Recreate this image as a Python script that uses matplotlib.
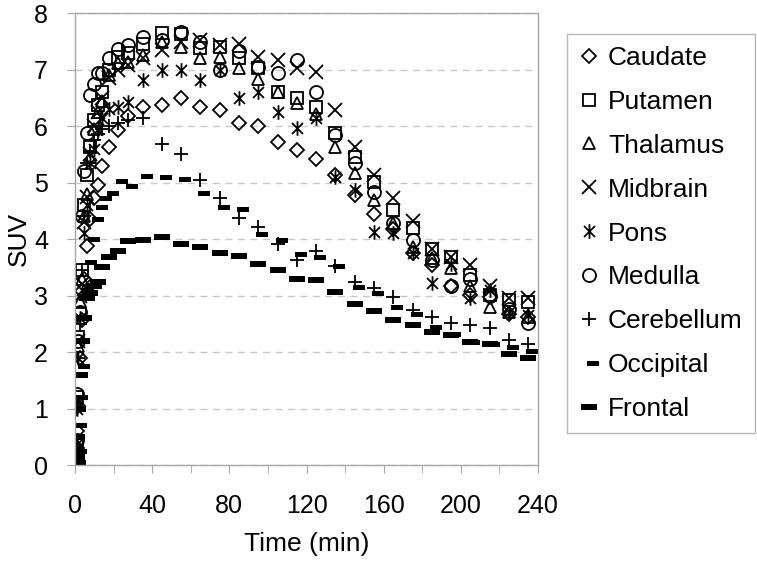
import matplotlib
matplotlib.use("Agg")
import matplotlib.pyplot as plt
from matplotlib.path import Path
from matplotlib.ticker import MultipleLocator

plt.rcParams['font.family'] = ['Liberation Sans', 'DejaVu Sans']

# Temps (min) et SUV par région
time_min = [0.17, 0.5, 0.83, 1.17, 1.5, 2.5, 3.5, 4.5, 6, 8, 10, 12, 14, 17.5, 22.5, 27.5,
            35, 45, 55, 65, 75, 85, 95, 105, 115, 125, 135, 145, 155, 165, 175, 185, 195,
            205, 215, 225, 235]

caudate = [0.0, 0.05, 0.3, 0.6, 1.05, 1.89, 2.57, 3.30, 3.88, 4.36, 4.72, 4.96, 5.30, 5.63, 5.93, 6.17,
           6.34, 6.37, 6.49, 6.34, 6.28, 6.06, 6.00, 5.72, 5.58, 5.42, 5.13, 4.78, 4.45, 4.17, 3.75,
           3.54, 3.16, 3.01, 2.98, 2.68, 2.62]
putamen = [0.0, 0.1, 0.4, 1.2, 2.27, 2.68, 3.45, 4.60, 5.13, 5.63, 6.10, 6.37, 6.60, 7.00, 7.23, 7.30,
           7.45, 7.65, 7.62, 7.38, 7.40, 7.20, 7.03, 6.61, 6.49, 6.34, 5.87, 5.46, 5.01, 4.51, 4.20,
           3.83, 3.69, 3.37, 3.01, 2.92, 2.89]
thalamus = [0.0, 0.1, 0.35, 1.1, 2.1, 2.9, 3.3, 4.40, 4.80, 5.45, 5.95, 6.25, 6.45, 6.90, 7.11, 7.14,
            7.26, 7.48, 7.40, 7.20, 7.22, 7.02, 6.83, 6.61, 6.40, 6.22, 5.63, 5.16, 4.69, 4.28, 3.86,
            3.66, 3.48, 3.16, 2.80, 2.71, 2.62]
midbrain = [0.0, 0.1, 0.35, 1.1, 2.2, 3.0, 3.2, 4.30, 4.75, 5.50, 6.00, 6.25, 6.50, 6.85, 6.99, 7.08,
            7.20, 7.35, 7.49, 7.52, 7.43, 7.46, 7.23, 7.17, 7.02, 6.96, 6.28, 5.63, 5.13, 4.72, 4.31,
            3.83, 3.69, 3.54, 3.16, 2.95, 2.95]
pons = [0.0, 0.08, 0.3, 1.0, 1.9, 2.6, 3.1, 4.10, 4.60, 5.35, 5.60, 5.95, 6.15, 6.30, 6.34, 6.43,
        6.81, 6.99, 6.99, 6.81, 6.99, 6.49, 6.60, 6.25, 5.96, 6.14, 5.10, 4.87, 4.13, 4.10, 3.75,
        3.22, 3.55, 2.95, 3.10, 2.71, 2.65]
medulla = [0.02, 0.15, 0.45, 1.25, 2.2, 2.71, 4.40, 5.20, 5.87, 6.55, 6.75, 6.93, 6.93, 7.20, 7.37, 7.43,
           7.58, 7.52, 7.67, 7.49, 7.00, 7.32, 7.04, 6.93, 7.16, 6.61, 5.84, 5.34, 4.84, 4.28, 3.98,
           3.63, 3.16, 3.30, 3.00, 2.77, 2.51]
cerebellum = [0.0, 0.08, 0.3, 1.0, 1.9, 2.5, 3.45, 4.40, 5.35, 5.55, 5.75, 5.85, 5.95, 6.00, 6.05, 6.10,
              6.14, 5.69, 5.51, 5.04, 4.72, 4.38, 4.22, 3.92, 3.63, 3.78, 3.52, 3.24, 3.13, 2.98, 2.74,
              2.62, 2.52, 2.48, 2.42, 2.21, 2.15]
occipital = [0.0, 0.05, 0.25, 0.7, 1.2, 1.75, 2.6, 3.10, 3.60, 4.00, 4.35, 4.57, 4.72, 4.82, 5.03, 4.94,
             5.12, 5.09, 5.06, 4.82, 4.57, 4.53, 4.08, 3.98, 3.73, 3.68, 3.53, 3.15, 3.04, 2.80, 2.67,
             2.45, 2.32, 2.18, 2.15, 2.09, 2.02]
frontal = [0.0, 0.03, 0.15, 0.5, 1.0, 1.6, 2.2, 2.60, 2.95, 3.05, 3.16, 3.24, 3.50, 3.68, 3.78, 3.96,
           3.99, 4.04, 3.92, 3.86, 3.76, 3.70, 3.55, 3.46, 3.30, 3.27, 3.06, 2.85, 2.73, 2.57, 2.48,
           2.36, 2.30, 2.17, 2.14, 1.96, 1.90]

regions = ["Caudate", "Putamen", "Thalamus", "Midbrain", "Pons", "Medulla",
           "Cerebellum", "Occipital", "Frontal"]
suv = [caudate, putamen, thalamus, midbrain, pons, medulla, cerebellum, occipital, frontal]

# Marqueurs façon Excel
star = Path([(0, -1), (0, 1), (-0.75, -0.75), (0.75, 0.75), (-0.75, 0.75), (0.75, -0.75)],
            [Path.MOVETO, Path.LINETO, Path.MOVETO, Path.LINETO, Path.MOVETO, Path.LINETO])
short_dash = Path([(-0.2, -0.25), (1, -0.25), (1, 0.25), (-0.2, 0.25), (-0.2, -0.25)],
                  [Path.MOVETO, Path.LINETO, Path.LINETO, Path.LINETO, Path.CLOSEPOLY])
long_dash = Path([(-1, -0.3), (1, -0.3), (1, 0.3), (-1, 0.3), (-1, -0.3)],
                 [Path.MOVETO, Path.LINETO, Path.LINETO, Path.LINETO, Path.CLOSEPOLY])

styles = [
    dict(marker='D', ms=6.8, mfc='none'),
    dict(marker='s', ms=8.6, mfc='none'),
    dict(marker='^', ms=9.0, mfc='none'),
    dict(marker='x', ms=9.4, mfc='none'),
    dict(marker=star, ms=10.5, mfc='none'),
    dict(marker='o', ms=9.4, mfc='none'),
    dict(marker='+', ms=10.0, mfc='none'),
    dict(marker=short_dash, ms=14.4, mfc='black', mew=0),
    dict(marker=long_dash, ms=12.2, mfc='black', mew=0),
]

fig = plt.figure(figsize=(7.57, 5.61), dpi=100)
ax = fig.add_axes([0.0991, 0.1711, 0.6116, 0.8057])

for name, vals, st in zip(regions, suv, styles):
    kw = dict(linestyle='none', mec='black', mew=1.3, label=name)
    kw.update(st)
    ax.plot(time_min, vals, **kw)

ax.set_xlim(0, 240)
ax.set_ylim(0, 8)
ax.xaxis.set_major_locator(MultipleLocator(40))
ax.xaxis.set_minor_locator(MultipleLocator(20))
ax.yaxis.set_major_locator(MultipleLocator(1))
ax.yaxis.grid(True, color='#c8c8c8', linestyle=(0, (5, 4)), linewidth=1)
ax.set_axisbelow(True)

for sp in ax.spines.values():
    sp.set_color('#a6a6a6')
    sp.set_linewidth(1)
ax.tick_params(which='both', direction='out', length=6, color='#a6a6a6', labelsize=18)
ax.tick_params(axis='x', which='major', pad=15)
ax.tick_params(axis='y', pad=13.5)

ax.set_xlabel("Time (min)", fontsize=19, labelpad=10)
ax.set_ylabel("SUV", fontsize=19, labelpad=2)

leg = fig.legend(loc='upper left', bbox_to_anchor=(0.749, 0.9394), frameon=True, fancybox=False,
                 edgecolor='#a6a6a6', fontsize=19, handlelength=0.8, handletextpad=0.3,
                 labelspacing=0.755, borderpad=0.45, borderaxespad=0)
leg.get_frame().set_linewidth(1)

fig.savefig("out.png", dpi=100)
